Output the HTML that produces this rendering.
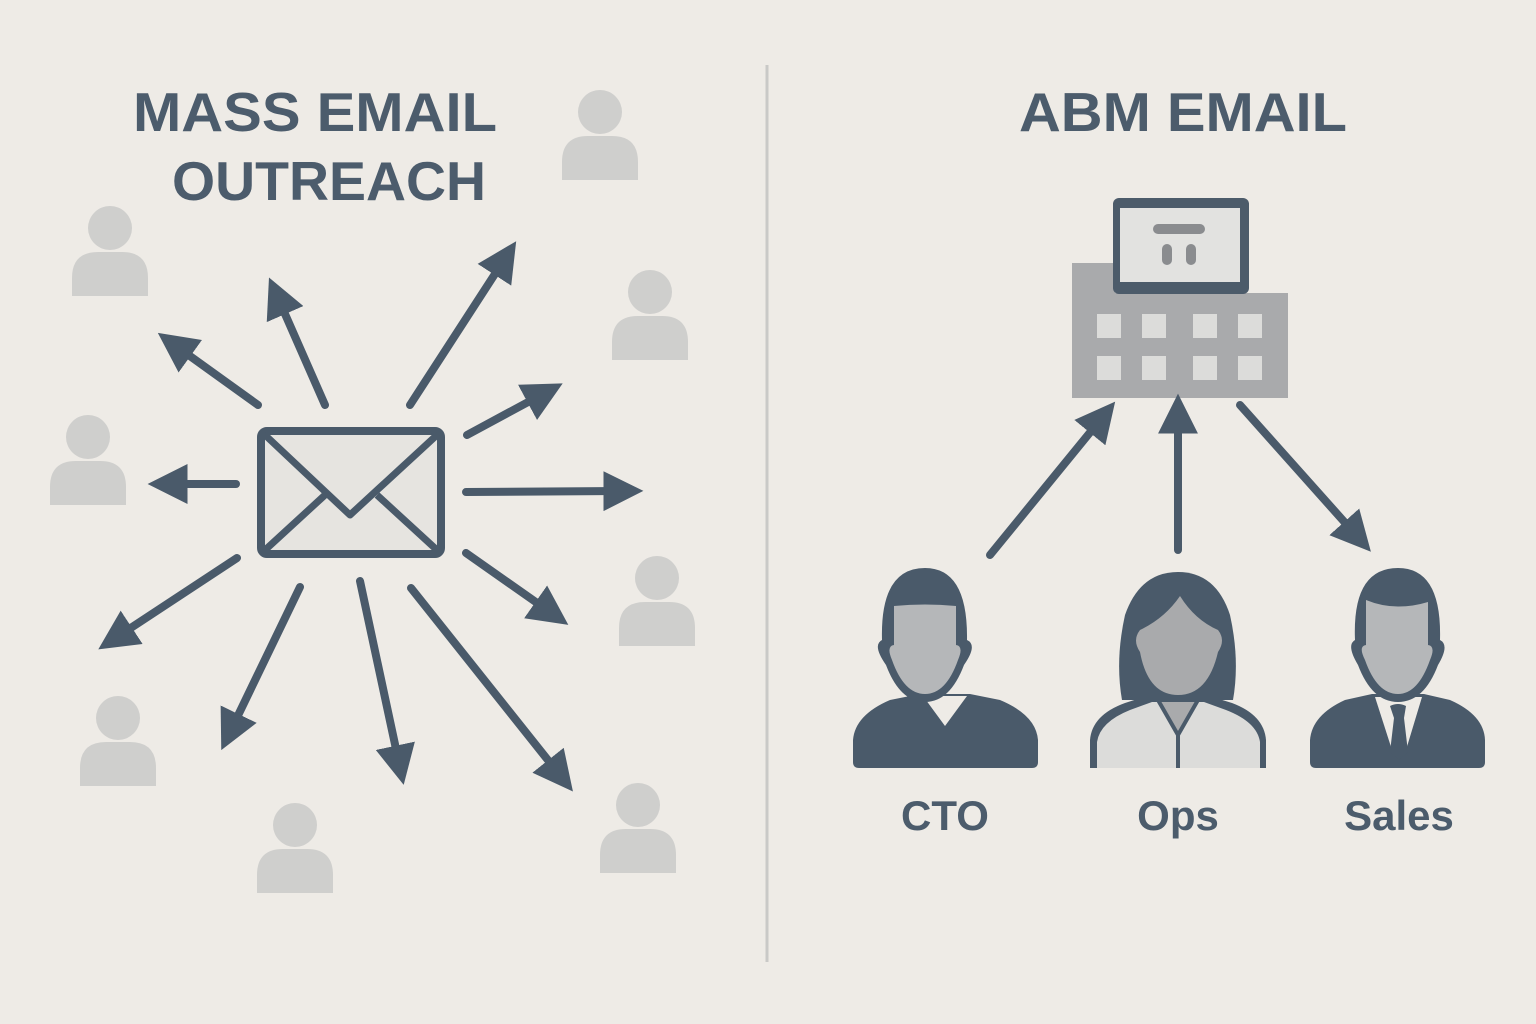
<!DOCTYPE html>
<html><head><meta charset="utf-8"><style>
html,body{margin:0;padding:0;background:#eeebe6;}
svg{display:block}
</style></head><body>
<svg width="1536" height="1024" viewBox="0 0 1536 1024" xmlns="http://www.w3.org/2000/svg">
<defs>
<marker id="ah" markerWidth="5" markerHeight="5" refX="2.2" refY="2.5" orient="auto" markerUnits="strokeWidth">
<path d="M0,0 L5,2.5 L0,5 Z" fill="#4a5a6a"/>
</marker>
<g id="lp" fill="#cfcfcd">
<circle cx="0" cy="0" r="22"/>
<path d="M-38,68 V50 Q-38,24 -12,24 H12 Q38,24 38,50 V68 Z"/>
</g>
</defs>
<rect width="1536" height="1024" fill="#eeebe6"/>
<g font-family="Liberation Sans, sans-serif" font-weight="bold" fill="#4c5c6c" text-anchor="middle">
<text x="315" y="131" font-size="55" textLength="364" lengthAdjust="spacingAndGlyphs">MASS EMAIL</text>
<text x="329" y="200" font-size="55" textLength="314" lengthAdjust="spacingAndGlyphs">OUTREACH</text>
<text x="1183" y="131" font-size="55" textLength="328" lengthAdjust="spacingAndGlyphs">ABM EMAIL</text>
<text x="945" y="830" font-size="42">CTO</text>
<text x="1178" y="830" font-size="42">Ops</text>
<text x="1399" y="830" font-size="42">Sales</text>
</g>
<line x1="767" y1="65" x2="767" y2="962" stroke="#c9c9c7" stroke-width="3"/>
<!-- light persons -->
<use href="#lp" x="600" y="112"/>
<use href="#lp" x="110" y="228"/>
<use href="#lp" x="650" y="292"/>
<use href="#lp" x="88" y="437"/>
<use href="#lp" x="657" y="578"/>
<use href="#lp" x="118" y="718"/>
<use href="#lp" x="295" y="825"/>
<use href="#lp" x="638" y="805"/>
<!-- arrows left -->
<g stroke="#4a5a6a" stroke-width="8" stroke-linecap="round" marker-end="url(#ah)">
<line x1="258" y1="405" x2="176" y2="346"/>
<line x1="325" y1="405" x2="278" y2="298"/>
<line x1="410" y1="405" x2="504" y2="260"/>
<line x1="467" y1="435" x2="543" y2="394"/>
<line x1="236" y1="484" x2="170" y2="484"/>
<line x1="466" y1="492" x2="621" y2="491"/>
<line x1="237" y1="558" x2="117" y2="637"/>
<line x1="300" y1="587" x2="231" y2="730"/>
<line x1="360" y1="581" x2="399" y2="763"/>
<line x1="411" y1="588" x2="559" y2="774"/>
<line x1="466" y1="553" x2="550" y2="612"/>
</g>
<!-- envelope -->
<rect x="261" y="431" width="180" height="123" rx="6" fill="#e6e4e0" stroke="#4a5a6a" stroke-width="8"/>
<g stroke="#4a5a6a" stroke-width="7" fill="none" stroke-linejoin="round">
<path d="M264,434 L350,515 L438,434"/>
<path d="M264,551 L325,495 M438,551 L377,495"/>
</g>
<!-- building -->
<path d="M1072,263 H1115 V293 H1288 V398 H1072 Z" fill="#a9aaac"/>
<rect x="1113" y="198" width="136" height="96" rx="6" fill="#4c5b6a"/>
<rect x="1120" y="208" width="120" height="74" fill="#e2e2e0"/>
<rect x="1153" y="224" width="52" height="10" rx="5" fill="#8a8c8f"/>
<rect x="1162" y="244" width="10" height="21" rx="5" fill="#8a8c8f"/>
<rect x="1186" y="244" width="10" height="21" rx="5" fill="#8a8c8f"/>
<g fill="#dcdcda">
<rect x="1097" y="314" width="24" height="24"/><rect x="1142" y="314" width="24" height="24"/><rect x="1193" y="314" width="24" height="24"/><rect x="1238" y="314" width="24" height="24"/>
<rect x="1097" y="356" width="24" height="24"/><rect x="1142" y="356" width="24" height="24"/><rect x="1193" y="356" width="24" height="24"/><rect x="1238" y="356" width="24" height="24"/>
</g>
<g stroke="#4a5a6a" stroke-width="8" stroke-linecap="round" marker-end="url(#ah)">
<line x1="990" y1="555" x2="1101" y2="419"/>
<line x1="1178" y1="550" x2="1178" y2="416"/>
<line x1="1240" y1="405" x2="1356" y2="535"/>
</g>
<!-- CTO -->
<g>
<path d="M853,762 V740 Q855,715 890,700 L920,694 H970 L1000,700 Q1036,715 1038,740 V762 Q1038,768 1032,768 H859 Q853,768 853,762 Z" fill="#4a5a6a"/>
<path d="M923,696 L945,726 L967,696 Z" fill="#eeebe6"/>
<ellipse cx="925" cy="640" rx="0" ry="0"/>
<path d="M882,640 Q880,568 925,568 Q968,568 967,640 Q978,645 964,665 Q950,702 925,702 Q900,702 886,665 Q872,645 882,640 Z" fill="#4a5a6a"/>
<path d="M894,606 Q925,603 956,606 V645 Q964,646 958,660 Q946,694 925,694 Q904,694 892,660 Q886,646 894,645 Z" fill="#b5b7b9"/>
</g>
<!-- Ops -->
<g>
<path d="M1090,768 V740 Q1092,715 1125,703 L1150,695 H1206 L1232,703 Q1264,715 1266,740 V768 Z" fill="#4a5a6a"/>
<path d="M1097,768 V742 Q1100,722 1130,710 L1152,702 H1204 L1226,710 Q1257,722 1260,742 V768 Z" fill="#dcdcda"/>
<path d="M1158,700 L1178,735 L1198,700 Z" fill="#a9aaac" stroke="#4a5a6a" stroke-width="4"/>
<line x1="1178" y1="735" x2="1178" y2="768" stroke="#4a5a6a" stroke-width="4"/>
<path d="M1122,700 Q1115,660 1125,615 Q1140,572 1178,572 Q1216,572 1230,615 Q1240,660 1233,700 Z" fill="#4a5a6a"/>
<path d="M1140,630 Q1165,618 1180,596 Q1195,620 1218,630 Q1226,640 1218,652 Q1208,695 1178,695 Q1148,695 1140,652 Q1132,640 1140,630 Z" fill="#a9aaac"/>
</g>
<!-- Sales -->
<g>
<path d="M1310,762 V740 Q1312,715 1345,700 L1372,694 H1424 L1450,700 Q1484,715 1485,740 V762 Q1485,768 1479,768 H1316 Q1310,768 1310,762 Z" fill="#4a5a6a"/>
<path d="M1375,697 L1392,750 H1406 L1422,697 Z" fill="#eeebe6"/>
<path d="M1390,706 Q1398,702 1406,706 L1404,718 L1408,752 L1399,760 L1390,752 L1394,718 Z" fill="#4a5a6a"/>
<path d="M1355,640 Q1352,568 1398,568 Q1442,568 1440,640 Q1450,645 1438,665 Q1424,702 1398,702 Q1372,702 1358,665 Q1346,645 1355,640 Z" fill="#4a5a6a"/>
<path d="M1366,600 Q1395,612 1428,602 V645 Q1436,646 1430,660 Q1418,694 1398,694 Q1377,694 1365,660 Q1358,646 1366,645 Z" fill="#b5b7b9"/>
</g>
</svg>
</body></html>
